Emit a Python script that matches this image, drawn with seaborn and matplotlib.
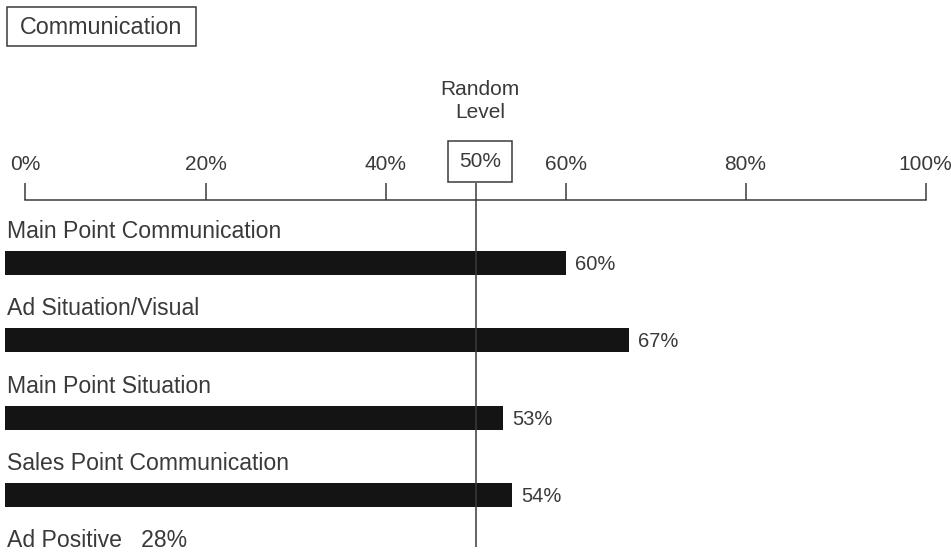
import matplotlib
matplotlib.use("Agg")
import matplotlib.pyplot as plt
from matplotlib.patches import Rectangle
import pandas as pd
import seaborn as sns

# Share of respondents per communication measure (%)
categories = [
    "Main Point Communication",
    "Ad Situation/Visual",
    "Main Point Situation",
    "Sales Point Communication",
    "Ad Positive",
]
values = [60, 67, 53, 54, 28]
value_in_name = [False, False, False, False, True]

tick_values = [0, 20, 40, 60, 80, 100]
tick_labels = ["0%", "20%", "40%", "60%", "80%", "100%"]

random_level = 50
random_label = "50%"
random_title = ["Random", "Level"]
chart_title = "Communication"

sns.set_theme(style="white")
plt.rcParams["font.family"] = ["Liberation Sans", "DejaVu Sans"]

INK = "#3a3a3a"
BAR = "#141414"
W, H = 951, 552

fig = plt.figure(figsize=(W / 100, H / 100), dpi=100)
ax = fig.add_axes([0, 0, 1, 1])

df = pd.DataFrame({"item": categories, "share": values})
sns.barplot(data=df, x="share", y="item", orient="h", color=BAR,
            saturation=1, width=0.31, ax=ax)

ax.set_xlim(-2.833, 102.83)
ax.set_ylim(3.739, -3.402)

# bars run in from the left margin, ending at their value
bar_left = -2.28
for p in ax.patches:
    right = p.get_x() + p.get_width()
    p.set_x(bar_left)
    p.set_width(right - bar_left)
    p.set_edgecolor("none")

# item names above the bars and values at the bar ends
for i, (name, v, inline) in enumerate(zip(categories, values, value_in_name)):
    text = f"{name}   {v}%" if inline else name
    ax.text(-2.06, i - 0.323, text, ha="left", va="baseline",
            fontsize=16.6, color=INK)
    if not inline:
        ax.text(v + 1.1, i + 0.09, f"{v}%", ha="left", va="baseline",
                fontsize=14.5, color=INK)

# percentage scale across the top
for side in ["left", "right", "bottom"]:
    ax.spines[side].set_visible(False)
top = ax.spines["top"]
top.set_position(("data", -0.815))
top.set_bounds(0, 100)
top.set_color(INK)
top.set_linewidth(1.1)
ax.xaxis.set_ticks_position("top")
ax.set_xticks(tick_values, tick_labels)
ax.tick_params(axis="x", direction="out", length=12.5, width=1.1,
               color=INK, labelcolor=INK, labelsize=15, pad=6,
               top=True, bottom=False, labeltop=True, labelbottom=False)
ax.set_yticks([])
ax.set_xlabel("")
ax.set_ylabel("")

# random-level reference line with its boxed label
ax.vlines(random_level, -1.035, 3.674, color=INK, lw=1.1, zorder=3)
ax.text(random_level + 0.5, -1.31, random_label, ha="center", va="center",
        fontsize=15, color=INK, zorder=4,
        bbox=dict(boxstyle="square,pad=0.53", fc="white", ec=INK, lw=1.1))
for k, line in enumerate(random_title):
    ax.text(random_level + 0.5, -2.173 + 0.297 * k, line, ha="center",
            va="baseline", fontsize=15, color=INK)

# boxed section title
fig.patches.append(Rectangle((7 / W, 1 - 46 / H), 189 / W, 39 / H,
                             transform=fig.transFigure, fill=False,
                             ec=INK, lw=1.1))
fig.text(20 / W, 1 - 34 / H, chart_title, ha="left", va="baseline",
         fontsize=16.8, color=INK)

fig.savefig("out.png", dpi=100, facecolor="white")
